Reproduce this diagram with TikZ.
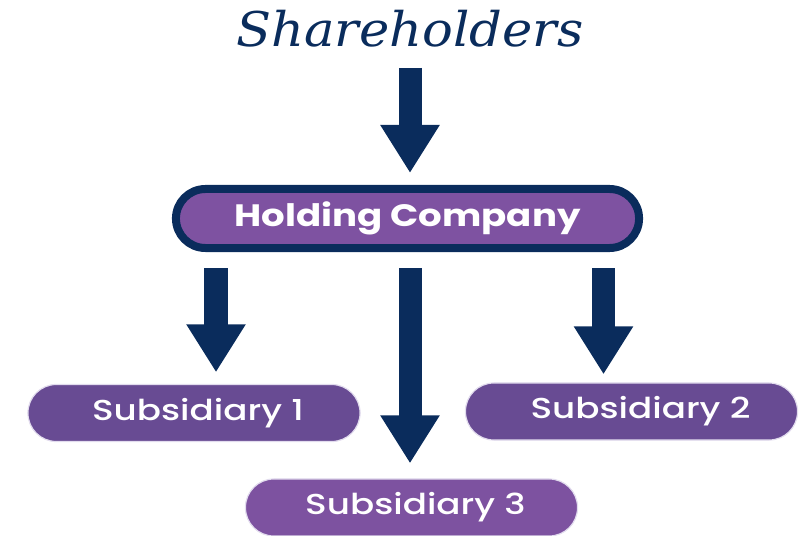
\documentclass[tikz,border=0pt]{standalone}
\usepackage{fontspec}
\setmainfont{Poppins}
\newfontfamily\titlefont{DejaVu Serif}[FakeStretch=1.07]
\newfontfamily\holdfont{Poppins}[FakeStretch=1.2]
\newfontfamily\subfont{Poppins Medium}[FakeStretch=1.24]
\usepackage{tikz}
\usetikzlibrary{arrows.meta,positioning}

\definecolor{navy}{RGB}{10,44,92}
\definecolor{plum}{RGB}{126,82,161}
\definecolor{subplum}{RGB}{104,75,147}
\definecolor{lilac}{RGB}{226,220,238}

\tikzset{
  holdbox/.style={draw=navy, line width=0.2cm, fill=plum, inner sep=0pt,
    minimum width=11.575cm, minimum height=1.475cm, rounded corners=0.7375cm,
    text=white, font=\holdfont\bfseries\fontsize{22}{26}\selectfont},
  subbox/.style={draw=lilac, line width=0.03cm, fill=subplum, inner sep=0pt,
    minimum width=8.3cm, minimum height=1.425cm, rounded corners=0.71cm,
    text=white, font=\subfont\fontsize{20.5}{24}\selectfont},
  blockarrow/.style={navy, line width=0.575cm,
    -{Triangle[width=1.4cm, length=1.2cm]}}
}

\begin{document}
\begin{tikzpicture}[x=0.025cm, y=-0.025cm]
    \useasboundingbox (0,0) rectangle (802,536);

    % owners on top
    \node[text=navy, anchor=base, font=\titlefont\itshape\fontsize{34}{38}\selectfont]
        (share) at (410,47) {Shareholders};

    % parent company
    \node[holdbox] (hold) at (407.5,218.5) {Holding Company};

    % subsidiaries
    \node[subbox] (sub1) at (194,413) {\hspace*{0.2cm}Subsidiary 1};
    \node[subbox] (sub2) at (631.5,411.5) {\hspace*{0.45cm}Subsidiary 2};
    \node[subbox, fill=plum!95!subplum] (sub3) at (411.5,507.5) {\hspace*{0.2cm}Subsidiary 3};

    % columns for the arrows
    \coordinate (lcol) at (216,300);
    \coordinate (mcol) at (410,300);
    \coordinate (rcol) at (603.5,300);

    % ownership arrows
    \draw[blockarrow, shorten >=0.3cm] ([yshift=-0.525cm]share.base) -- (hold.north -| mcol);
    \draw[blockarrow, shorten <=0.4cm, shorten >=0.375cm] (hold.south -| mcol) -- (sub3.north -| mcol);
    \draw[blockarrow, shorten <=0.4cm, shorten >=0.29cm] (hold.south -| lcol) -- (sub1.north -| lcol);
    \draw[blockarrow, shorten <=0.4cm, shorten >=0.2cm] (hold.south -| rcol) -- (sub2.north -| rcol);
\end{tikzpicture}
\end{document}
